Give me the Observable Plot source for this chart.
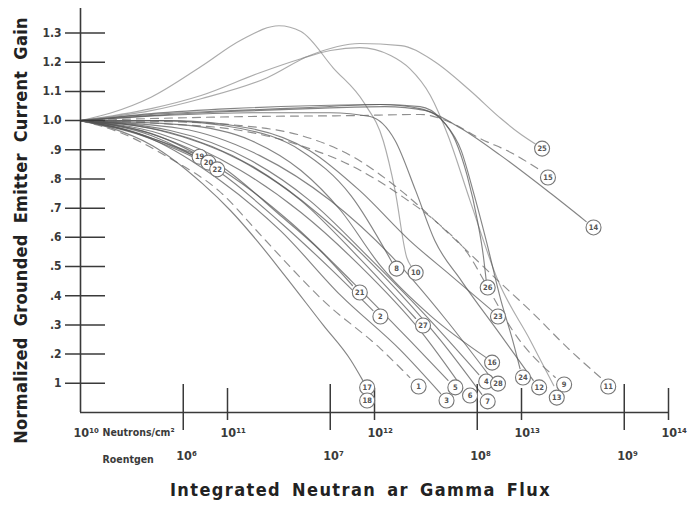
<!DOCTYPE html>
<html><head><meta charset="utf-8">
<script src="https://cdn.jsdelivr.net/npm/d3@7"></script>
<script src="https://cdn.jsdelivr.net/npm/@observablehq/plot@0.6"></script>
<style>body{margin:0;background:#fff;} svg{display:block;}</style>
</head><body><div id="chart"></div>
<script>
// ---------- axis data ----------
const yTicks = [0.1,0.2,0.3,0.4,0.5,0.6,0.7,0.8,0.9,1.0,1.1,1.2,1.3];
const yTickLabels = ["1",".2",".3",".4",".5",".6",".7",".8",".9","1.0","1.1","1.2","1.3"];
const neutronTicks = [1e10,1e11,1e12,1e13,1e14];
const neutronTickLabels = ["10¹⁰","10¹¹","10¹²","10¹³","10¹⁴"];
const roentgenTicks = [1e6,1e7,1e8,1e9];
const roentgenTickLabels = ["10⁶","10⁷","10⁸","10⁹"];
const neutronsPerRoentgen = 5e4;
const yTitle = "Normalized Grounded Emitter Current Gain";
const xTitle = "Integrated Neutran ar Gamma Flux";
const neutronUnit = "Neutrons/cm²";
const roentgenUnit = "Roentgen";

// ---------- series: [log10 neutron flux, normalized gain] ----------
const s1  = [[10,1],[10.29,0.955],[10.6,0.873],[10.94,0.76],[11.24,0.6],[11.43,0.497],[11.65,0.384],[12.04,0.219],[12.24,0.12]];
const s2  = [[10,1],[10.48,0.949],[10.95,0.822],[11.36,0.651],[11.7,0.493],[11.99,0.349]];
const s3  = [[10,1],[10.48,0.938],[10.95,0.795],[11.36,0.623],[11.77,0.401],[12.18,0.212],[12.45,0.065]];
const s4  = [[10,1],[10.61,0.966],[11.16,0.863],[11.56,0.726],[11.97,0.527],[12.38,0.315],[12.71,0.13]];
const s5  = [[10,1],[10.54,0.945],[11.02,0.812],[11.43,0.651],[11.84,0.452],[12.24,0.247],[12.5,0.11]];
const s6  = [[10,1],[10.54,0.955],[11.09,0.829],[11.5,0.685],[11.9,0.503],[12.31,0.281],[12.6,0.082]];
const s7  = [[10,1],[10.61,0.959],[11.16,0.846],[11.63,0.675],[12.04,0.479],[12.45,0.247],[12.73,0.062]];
const s8  = [[10,1],[10.54,1.0],[11.09,0.973],[11.5,0.897],[11.84,0.743],[12.12,0.514]];
const s9  = [[10,1],[10.54,0.99],[11.09,0.966],[11.5,0.914],[11.84,0.846],[12.18,0.743],[12.45,0.64],[12.63,0.548],[12.79,0.411],[12.94,0.281],[13.23,0.12]];
const s10 = [[10,1],[10.2,1.025],[10.48,1.08],[10.82,1.185],[11.09,1.275],[11.35,1.325],[11.5,1.305],[11.72,1.18],[11.93,1.06],[12.06,0.93],[12.14,0.76],[12.22,0.53],[12.25,0.5]];
const s11 = [[10,1],[10.54,0.997],[11.09,0.983],[11.5,0.949],[11.84,0.88],[12.18,0.76],[12.52,0.606],[12.84,0.452],[13.08,0.339],[13.31,0.223],[13.56,0.11]];
const s12 = [[10,1],[10.54,1.017],[11.16,1.027],[11.7,1.027],[11.97,1.014],[12.14,0.932],[12.28,0.76],[12.41,0.589],[12.59,0.452],[12.86,0.264],[13.08,0.11]];
const s13 = [[10,1],[10.48,1.041],[10.82,1.086],[11.22,1.164],[11.5,1.212],[11.7,1.24],[11.9,1.25],[12.11,1.223],[12.24,1.178],[12.38,1.086],[12.5,0.949],[12.65,0.726],[12.84,0.452],[13.06,0.247],[13.22,0.092]];
const s14 = [[10,1],[10.48,1.024],[11.02,1.041],[11.56,1.051],[12.04,1.055],[12.31,1.041],[12.59,0.973],[12.86,0.88],[13.2,0.75],[13.44,0.654]];
const s15 = [[10,1],[10.48,1.007],[11.16,1.014],[11.84,1.017],[12.31,1.021],[12.52,0.993],[12.72,0.938],[12.93,0.89],[13.13,0.829]];
const s16 = [[10,1],[10.68,0.986],[11.16,0.932],[11.5,0.829],[11.77,0.692],[12.04,0.503],[12.38,0.332],[12.76,0.188]];
const s17 = [[10,1],[10.2,0.976],[10.49,0.914],[10.83,0.784],[11.02,0.692],[11.2,0.589],[11.39,0.469],[11.65,0.3],[11.84,0.178],[11.92,0.11]];
const s19 = [[10,1],[10.27,0.973],[10.54,0.93],[10.78,0.885]];
const s20 = [[10,1],[10.34,0.965],[10.61,0.915],[10.83,0.866]];
const s21 = [[10,1],[10.48,0.955],[10.95,0.846],[11.36,0.675],[11.63,0.555],[11.85,0.435]];
const s22 = [[10,1],[10.41,0.95],[10.68,0.895],[10.88,0.848]];
const s23 = [[10,1],[10.61,1.0],[11.16,0.973],[11.56,0.897],[11.9,0.76],[12.24,0.589],[12.52,0.469],[12.8,0.349]];
const s24 = [[10,1],[10.48,1.017],[11.02,1.031],[11.56,1.041],[12.07,1.048],[12.35,1.034],[12.48,0.99],[12.59,0.897],[12.67,0.76],[12.76,0.589],[12.86,0.384],[12.94,0.247],[12.99,0.15]];
const s25 = [[10,1],[10.48,1.034],[10.82,1.075],[11.27,1.147],[11.56,1.223],[11.9,1.264],[12.18,1.257],[12.4,1.205],[12.65,1.103],[12.86,1.007],[12.99,0.955],[13.1,0.918]];
const s26 = [[10,1],[10.48,1.021],[11.02,1.034],[11.56,1.045],[12.04,1.055],[12.31,1.048],[12.45,1.007],[12.55,0.932],[12.63,0.812],[12.7,0.658],[12.74,0.538],[12.76,0.452]];
const s27 = [[10,1],[10.54,0.966],[11.09,0.863],[11.5,0.726],[11.9,0.527],[12.28,0.322]];
const s28 = [[10,1],[10.68,0.973],[11.22,0.88],[11.7,0.726],[12.11,0.538],[12.48,0.322],[12.79,0.12]];

// ---------- curve labels ----------
const labelIds   = ["25","15","14","19","20","22","8","10","26","21","23","2","27","16","17","18","1","5","3","6","4","28","7","24","12","9","13","11"];
const labelFluxE = [13.14,13.18,13.49,10.81,10.87,10.93,12.15,12.28,12.77,11.9,12.84,12.04,12.33,12.8,11.95,11.95,12.3,12.55,12.49,12.65,12.76,12.84,12.77,13.01,13.12,13.29,13.24,13.59];
const labelGain  = [0.904,0.805,0.634,0.876,0.856,0.833,0.493,0.479,0.428,0.411,0.329,0.329,0.298,0.171,0.086,0.041,0.089,0.086,0.041,0.058,0.106,0.099,0.038,0.12,0.086,0.096,0.051,0.089];

const series = {"1":s1,"2":s2,"3":s3,"4":s4,"5":s5,"6":s6,"7":s7,"8":s8,"9":s9,"10":s10,"11":s11,"12":s12,"13":s13,"14":s14,"15":s15,"16":s16,"17":s17,"19":s19,"20":s20,"21":s21,"22":s22,"23":s23,"24":s24,"25":s25,"26":s26,"27":s27,"28":s28};
const dashedIds = new Set(["1","9","11","15"]);
const lightIds = new Set(["10","13","25"]);

const rows = Object.entries(series).flatMap(([id, pts]) => pts.map(([e, g]) => ({id, flux: 10 ** e, gain: g})));
const solidRows = rows.filter(d => !dashedIds.has(d.id));
const dashedRows = rows.filter(d => dashedIds.has(d.id));
const labels = labelIds.map((id, i) => ({id, flux: 10 ** labelFluxE[i], gain: labelGain[i]}));

const font = "'DejaVu Sans Condensed', 'DejaVu Sans', sans-serif";
const ink = "#3a3a3a";

const chart = Plot.plot({
  width: 696, height: 508,
  marginLeft: 80, marginRight: 28, marginTop: 8, marginBottom: 96,
  style: {fontFamily: font, background: "#fff"},
  x: {type: "log", domain: [1e10, 1e14], axis: null},
  y: {domain: [0, 1.384], axis: null},
  marks: [
    Plot.line(solidRows, {x: "flux", y: "gain", z: "id", curve: "monotone-x",
      stroke: d => lightIds.has(d.id) ? "#8a8a8a" : "#555", strokeOpacity: 0.72, strokeWidth: 1.15}),
    Plot.line(dashedRows, {x: "flux", y: "gain", z: "id", curve: "monotone-x",
      stroke: "#6a6a6a", strokeOpacity: 0.75, strokeWidth: 1.15, strokeDasharray: "8,6"}),
    Plot.ruleX([1e10], {stroke: ink, strokeWidth: 1.6}),
    Plot.ruleY([0], {stroke: ink, strokeWidth: 1.6}),
    Plot.axisY(yTicks, {anchor: "left", tickSize: 40, dx: 25, tickPadding: 4,
      tickFormat: d => yTickLabels[yTicks.indexOf(d)], stroke: ink, strokeWidth: 1.5,
      fill: ink, fontSize: 12, fontWeight: "bold", label: null}),
    Plot.axisX(neutronTicks.slice(1), {anchor: "bottom", tickSize: 32, dy: -24,
      tickFormat: () => "", stroke: ink, strokeWidth: 1.5, label: null}),
    Plot.axisX(roentgenTicks.map(r => r * neutronsPerRoentgen), {anchor: "bottom", tickSize: 46, dy: -28,
      tickFormat: () => "", stroke: ink, strokeWidth: 1.5, label: null}),
    Plot.text(neutronTicks, {x: d => d, frameAnchor: "bottom", dy: 24, dx: -7, textAnchor: "start",
      text: (d, i) => neutronTickLabels[i], fontSize: 12.5, fontWeight: "bold", fill: ink}),
    Plot.text(roentgenTicks, {x: d => d * neutronsPerRoentgen, frameAnchor: "bottom", dy: 47, dx: -7, textAnchor: "start",
      text: (d, i) => roentgenTickLabels[i], fontSize: 12.5, fontWeight: "bold", fill: ink}),
    Plot.text([neutronUnit], {x: neutronTicks[0], frameAnchor: "bottom", dy: 23, dx: 22, textAnchor: "start",
      text: d => d, fontSize: 10.5, fontWeight: "bold", fill: ink}),
    Plot.text([roentgenUnit], {x: neutronTicks[0], frameAnchor: "bottom", dy: 50, dx: 22, textAnchor: "start",
      text: d => d, fontSize: 10.5, fontWeight: "bold", fill: ink}),
    Plot.text([xTitle], {frameAnchor: "bottom", dy: 83, dx: -14, textAnchor: "middle", text: d => d,
      fontSize: 18, fontWeight: "bold", fill: "#222"}),
    Plot.text([yTitle], {frameAnchor: "left", dx: -59, dy: 20, rotate: -90, textAnchor: "middle", text: d => d,
      fontSize: 18, fontWeight: "bold", fill: "#222"}),
    Plot.dot(labels, {x: "flux", y: "gain", r: 7.5, fill: "white", stroke: "#777", strokeWidth: 1.1}),
    Plot.text(labels, {x: "flux", y: "gain", text: "id", fontSize: 7.5, fill: "#555", fontWeight: "bold"})
  ]
});
d3.select(chart).selectAll("text").filter(function() { return this.textContent === xTitle; })
  .attr("letter-spacing", 1.4).attr("word-spacing", 4);
d3.select(chart).selectAll("text").filter(function() { return this.textContent === yTitle; })
  .attr("letter-spacing", 0.3).attr("word-spacing", 5);
document.getElementById("chart").append(chart);
</script>
</body></html>
